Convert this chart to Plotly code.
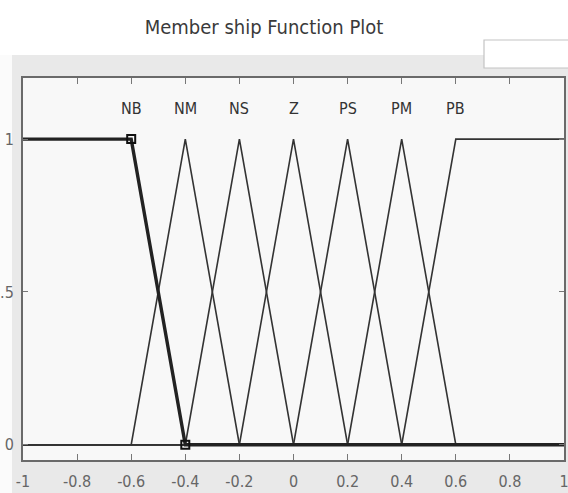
import plotly.graph_objects as go

# Membership functions of the fuzzy variable (universe [-1, 1])
mf_names = ["NB", "NM", "NS", "Z", "PS", "PM", "PB"]
mf_x = [
    [-1.0, -0.6, -0.4, 1.0],          # NB trapezoid (shoulder)
    [-1.0, -0.6, -0.4, -0.2, 1.0],    # NM triangle
    [-1.0, -0.4, -0.2, 0.0, 1.0],     # NS triangle
    [-1.0, -0.2, 0.0, 0.2, 1.0],      # Z triangle
    [-1.0, 0.0, 0.2, 0.4, 1.0],       # PS triangle
    [-1.0, 0.2, 0.4, 0.6, 1.0],       # PM triangle
    [-1.0, 0.4, 0.6, 1.0],            # PB trapezoid (shoulder)
]
mf_y = [
    [1, 1, 0, 0],
    [0, 0, 1, 0, 0],
    [0, 0, 1, 0, 0],
    [0, 0, 1, 0, 0],
    [0, 0, 1, 0, 0],
    [0, 0, 1, 0, 0],
    [0, 0, 1, 1],
]
label_x = [-0.6, -0.4, -0.2, 0.0, 0.2, 0.4, 0.6]
label_y = 1.1
selected = 0  # NB is highlighted

x_ticks = [-1, -0.8, -0.6, -0.4, -0.2, 0, 0.2, 0.4, 0.6, 0.8, 1]
x_tick_text = ["-1", "-0.8", "-0.6", "-0.4", "-0.2", "0", "0.2", "0.4", "0.6", "0.8", "1"]
y_ticks = [0, 0.5, 1]
y_tick_text = ["0", ".5", "1"]

W, H = 568, 493
FONT = "DejaVu Sans Condensed, Liberation Sans Narrow, sans-serif"

fig = go.Figure()

for i, (xs, ys) in enumerate(zip(mf_x, mf_y)):
    if i == selected:
        continue
    fig.add_trace(go.Scatter(x=xs, y=ys, mode="lines",
                             line=dict(color="#333333", width=1.6),
                             hoverinfo="skip", showlegend=False))

# highlighted membership function drawn on top
fig.add_trace(go.Scatter(x=mf_x[selected], y=mf_y[selected], mode="lines",
                         line=dict(color="#222222", width=3.4),
                         hoverinfo="skip", showlegend=False))
fig.add_trace(go.Scatter(x=mf_x[selected][1:3], y=mf_y[selected][1:3], mode="markers",
                         marker=dict(symbol="square-open", size=8, color="#111",
                                     line=dict(width=2)),
                         hoverinfo="skip", showlegend=False))

for name, lx in zip(mf_names, label_x):
    fig.add_annotation(x=lx, y=label_y, text=name, showarrow=False,
                       font=dict(family=FONT, size=16, color="#333"),
                       xanchor="center", yanchor="middle")

L, R, T, B = 23, 4, 78, 33
PW, PH = W - L - R, H - T - B


def px_x(p):
    return (p - L) / PW


def px_y(p):
    return (H - B - p) / PH


shapes = [
    # white band above the grey figure panel
    dict(type="rect", xref="paper", yref="paper", layer="below",
         x0=px_x(0), x1=px_x(W), y0=px_y(55), y1=px_y(0),
         fillcolor="#ffffff", line=dict(width=0)),
    # white strip on the far left
    dict(type="rect", xref="paper", yref="paper", layer="below",
         x0=px_x(0), x1=px_x(12), y0=px_y(H), y1=px_y(55),
         fillcolor="#fbfbfb", line=dict(width=0)),
    # white box in the top-right corner
    dict(type="rect", xref="paper", yref="paper", layer="above",
         x0=px_x(484), x1=px_x(W + 2), y0=px_y(68), y1=px_y(40),
         fillcolor="#ffffff", line=dict(color="#c4c4c4", width=1.2)),
]

fig.update_layout(
    width=W, height=H,
    margin=dict(l=L, r=R, t=T, b=B, autoexpand=False),
    paper_bgcolor="#e9e9e9",
    plot_bgcolor="#f8f8f8",
    shapes=shapes,
    title=dict(text="Member ship Function Plot", x=264 / W, xref="container",
               xanchor="center", y=1 - 27 / H, yref="container", yanchor="middle",
               font=dict(family=FONT, size=20, color="#3a3a3a")),
    xaxis=dict(range=[-1, 1], tickvals=x_ticks, ticktext=x_tick_text,
               ticks="inside", ticklen=6, tickcolor="#777", tickwidth=1,
               showline=True, linecolor="#6a6a6a", linewidth=2, mirror="ticks",
               showgrid=False, zeroline=False, ticklabelstandoff=6,
               automargin=False, ticklabeloverflow="allow",
               tickfont=dict(family=FONT, size=16, color="#666")),
    yaxis=dict(range=[-0.05, 1.2], tickvals=y_ticks, ticktext=y_tick_text,
               ticks="inside", ticklen=5, tickcolor="#777", tickwidth=1,
               showline=True, linecolor="#6a6a6a", linewidth=2, mirror="ticks",
               showgrid=False, zeroline=False, ticklabelstandoff=4,
               automargin=False, ticklabeloverflow="allow",
               tickfont=dict(family=FONT, size=16, color="#666")),
)

fig.write_html("out.html")
